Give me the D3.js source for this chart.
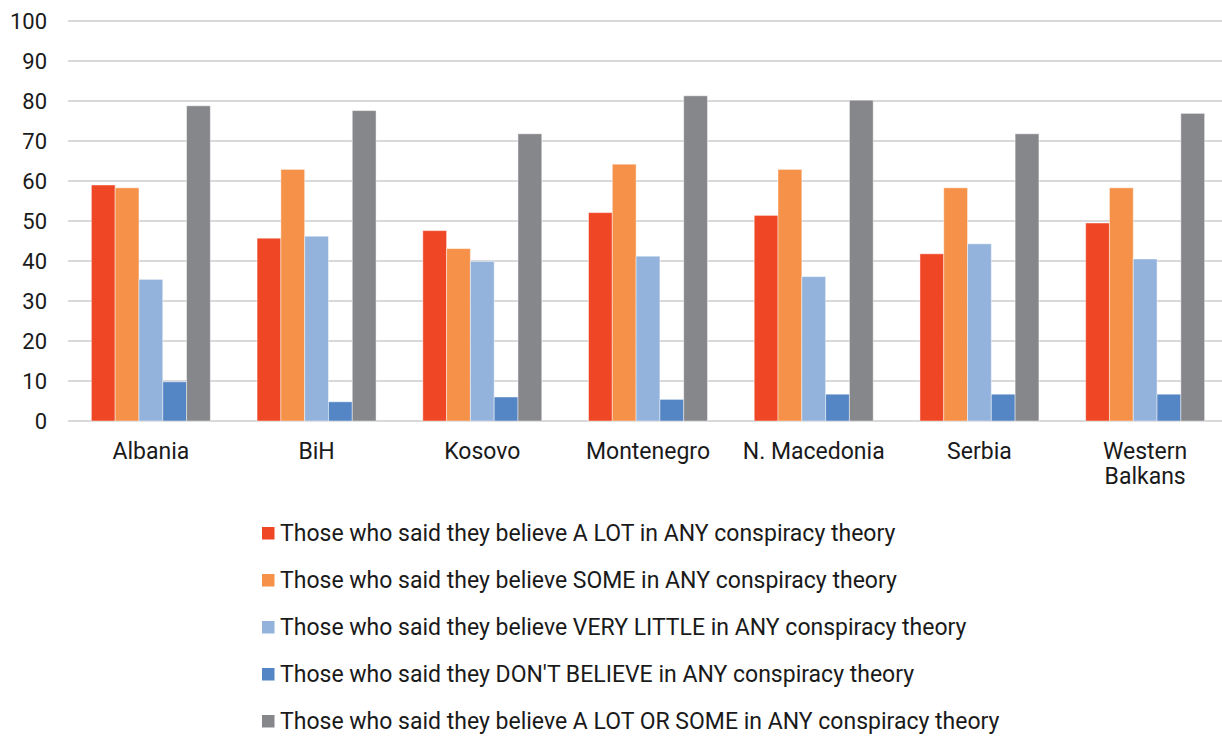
<!DOCTYPE html>
<html lang="en">
<head>
    <meta charset="UTF-8">
    <script src="https://d3js.org/d3.v7.min.js"></script>
    <title>index</title>
    <style>
        body { margin: 0; background: #fff; }
        svg { display: block; font-family: Roboto, "Open Sans", sans-serif; }
        .y-label { font-size: 22px; fill: #1a1a1a; }
        .x-label { font-size: 23px; fill: #1a1a1a; }
        .legend text { font-size: 23px; fill: #1a1a1a; }
    </style>
</head>
<body>
    <div id="chart"></div>
    <script>
        var width = 1222;
        var height = 736;

        var countries = ['Albania', 'BiH', 'Kosovo', 'Montenegro', 'N. Macedonia', 'Serbia', 'Western Balkans'];
        var seriesNames = [
            'Those who said they believe A LOT in ANY conspiracy theory',
            'Those who said they believe SOME in ANY conspiracy theory',
            'Those who said they believe VERY LITTLE in ANY conspiracy theory',
            "Those who said they DON'T BELIEVE in ANY conspiracy theory",
            'Those who said they believe A LOT OR SOME in ANY conspiracy theory'
        ];
        var aLot       = [59.0, 45.7, 47.6, 52.1, 51.4, 41.8, 49.5];
        var some       = [58.3, 62.9, 43.1, 64.2, 62.9, 58.3, 58.3];
        var veryLittle = [35.4, 46.2, 39.9, 41.2, 36.1, 44.3, 40.5];
        var dontBelieve = [9.8, 4.8, 6.0, 5.4, 6.7, 6.7, 6.7];
        var aLotOrSome = [78.8, 77.6, 71.8, 81.3, 80.2, 71.8, 76.9];
        var yTicks = [0, 10, 20, 30, 40, 50, 60, 70, 80, 90, 100];
        var colors = ['#ef4726', '#f59148', '#93b3dc', '#5485c5', '#86878b'];

        var seriesValues = [aLot, some, veryLittle, dontBelieve, aLotOrSome];

        var svg = d3.select('#chart')
            .append('svg')
                .attr('width', width)
                .attr('height', height);

        var x = d3.scaleBand()
            .domain(countries)
            .range([68, 1228])
            .paddingInner(0.282)
            .paddingOuter(0.141);

        var xInner = d3.scaleBand()
            .domain(d3.range(seriesNames.length))
            .range([0, x.bandwidth()]);

        var y = d3.scaleLinear()
            .domain([0, 100])
            .range([421, 21]);

        // gridlines
        svg.append('g')
            .selectAll('line')
            .data(yTicks)
            .enter()
            .append('line')
                .attr('x1', 68)
                .attr('x2', width)
                .attr('y1', function(d) { return y(d); })
                .attr('y2', function(d) { return y(d); })
                .attr('stroke', '#d9d9d9')
                .attr('stroke-width', 2);

        // y labels
        svg.append('g')
            .selectAll('text')
            .data(yTicks)
            .enter()
            .append('text')
                .attr('class', 'y-label')
                .attr('x', 47)
                .attr('y', function(d) { return y(d); })
                .attr('dy', '0.35em')
                .attr('text-anchor', 'end')
                .text(function(d) { return d; });

        // bars
        var groups = svg.append('g')
            .selectAll('g')
            .data(countries)
            .enter()
            .append('g')
                .attr('transform', function(d) { return 'translate(' + x(d) + ',0)'; });

        groups.selectAll('rect')
            .data(function(d, i) {
                return seriesValues.map(function(vals, s) { return { s: s, v: vals[i] }; });
            })
            .enter()
            .append('rect')
                .attr('x', function(d) { return xInner(d.s); })
                .attr('width', xInner.bandwidth())
                .attr('y', function(d) { return y(d.v); })
                .attr('height', function(d) { return y(0) - y(d.v); })
                .attr('fill', function(d) { return colors[d.s]; })
                .attr('stroke', 'rgba(255,255,255,0.45)')
                .attr('stroke-width', 1);

        // x labels, "Western Balkans" wraps onto two lines
        svg.append('g')
            .selectAll('text')
            .data(countries)
            .enter()
            .append('text')
                .attr('class', 'x-label')
                .attr('text-anchor', 'middle')
                .attr('x', function(d) { return x(d) + x.bandwidth() / 2; })
                .attr('y', 451)
                .each(function(d) {
                    var words = d === 'Western Balkans' ? ['Western', 'Balkans'] : [d];
                    var t = d3.select(this);
                    words.forEach(function(w, i) {
                        t.append('tspan')
                            .attr('x', x(d) + x.bandwidth() / 2)
                            .attr('dy', i === 0 ? '0.35em' : '25px')
                            .text(w);
                    });
                });

        // legend
        var legend = svg.append('g')
            .selectAll('.legend')
            .data(seriesNames)
            .enter()
            .append('g')
                .attr('class', 'legend')
                .attr('transform', function(d, i) { return 'translate(262,' + (533 + i * 47) + ')'; });

        legend.append('rect')
            .attr('x', 0)
            .attr('y', -6)
            .attr('width', 12.5)
            .attr('height', 12.5)
            .attr('fill', function(d, i) { return colors[i]; });

        legend.append('text')
            .attr('x', 18)
            .attr('y', 0)
            .attr('dy', '0.35em')
            .text(function(d) { return d; });
    </script>
</body>
</html>
